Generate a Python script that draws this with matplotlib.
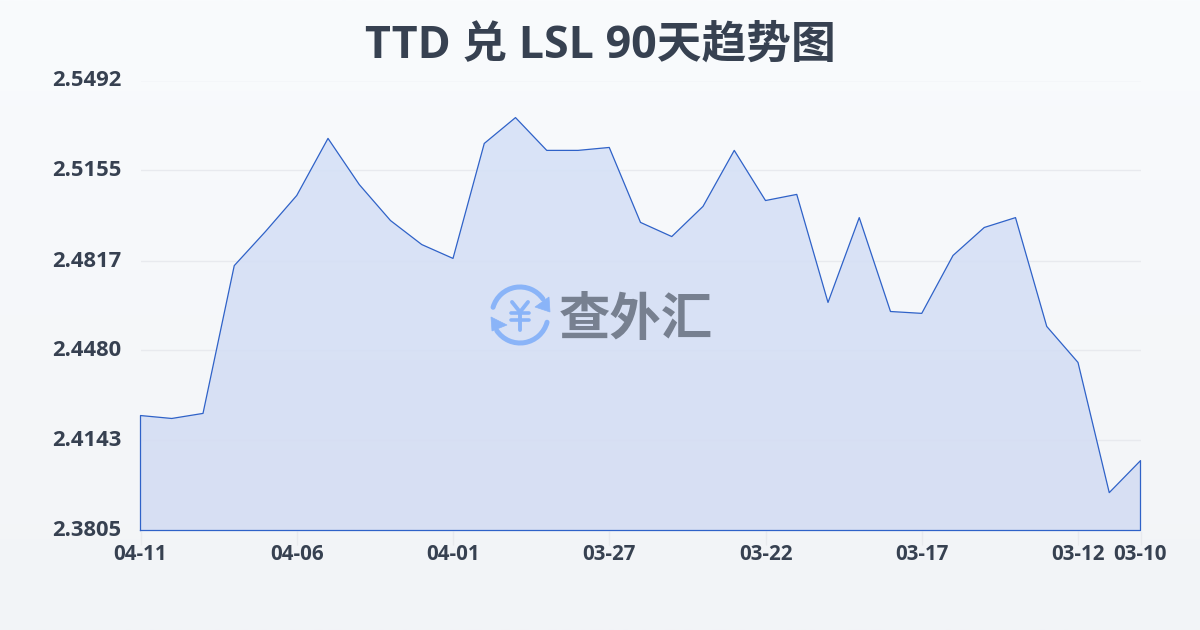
import numpy as np
import matplotlib
matplotlib.use('Agg')
import matplotlib.pyplot as plt
from matplotlib.patches import Arc, Polygon

plt.rcParams['font.family'] = ['Open Sans', 'Noto Sans CJK SC', 'DejaVu Sans']

title = 'TTD 兑 LSL 90天趋势图'
rates = [2.4236, 2.4225, 2.4244, 2.4798, 2.4926, 2.5061, 2.5275, 2.5102, 2.4967,
         2.4877, 2.4825, 2.5256, 2.5353, 2.5230, 2.5230, 2.5241, 2.4960, 2.4907,
         2.5020, 2.5230, 2.5042, 2.5065, 2.4660, 2.4978, 2.4626, 2.4619, 2.4836,
         2.4941, 2.4978, 2.4570, 2.4435, 2.3947, 2.4067]
x_ticks = [0, 5, 10, 15, 20, 25, 30, 32]
x_labels = ['04-11', '04-06', '04-01', '03-27', '03-22', '03-17', '03-12', '03-10']
y_ticks = [2.3805, 2.4143, 2.4480, 2.4817, 2.5155, 2.5492]
y_labels = ['2.3805', '2.4143', '2.4480', '2.4817', '2.5155', '2.5492']

text_color = '#374151'
line_color = '#2f62c8'
grid_color = '#e8eaee'

fig = plt.figure(figsize=(12, 6.3), dpi=100)

# background gradient
bg = fig.add_axes([0, 0, 1, 1], zorder=0)
bg.imshow(np.linspace(0, 1, 256).reshape(-1, 1),
          cmap=matplotlib.colors.LinearSegmentedColormap.from_list('bg', ['#f9fbfd', '#f2f4f7']),
          aspect='auto', extent=[0, 1, 0, 1])
bg.axis('off')

ax = fig.add_axes([140.5 / 1200, 99.5 / 630, 1000 / 1200, 450 / 630], zorder=1)
ax.patch.set_alpha(0)
x = np.arange(len(rates))

ax.set_xlim(0, 32)
ax.set_ylim(y_ticks[0], y_ticks[-1])
ax.set_yticks(y_ticks)
ax.set_yticklabels(y_labels)
ax.set_xticks(x_ticks)
ax.set_xticklabels(x_labels)
ax.grid(axis='y', color=grid_color, lw=1, zorder=1)
ax.set_axisbelow(True)

# area under the line, closed down to the axis
poly = ax.fill_between(x, rates, y_ticks[0], color='none', zorder=2)
grad = ax.imshow(np.linspace(0, 1, 256).reshape(-1, 1),
                 cmap=matplotlib.colors.LinearSegmentedColormap.from_list('fill', ['#d6e2f8', '#d4ddf3']),
                 aspect='auto', extent=[0, 32, y_ticks[0], y_ticks[-1]], alpha=0.88, zorder=2)
grad.set_clip_path(poly.get_paths()[0], transform=ax.transData)
ax.set_xlim(0, 32)
ax.set_ylim(y_ticks[0], y_ticks[-1])
ax.plot(np.r_[x[0], x, x[-1], x[0]],
        np.r_[y_ticks[0], rates, y_ticks[0], y_ticks[0]],
        color=line_color, lw=0.9, zorder=3, clip_on=False)

for s in ax.spines.values():
    s.set_visible(False)
ax.tick_params(axis='y', length=0, pad=14, labelsize=15.8, labelcolor=text_color)
ax.tick_params(axis='x', length=10, width=1, color=grid_color, pad=0, labelsize=14.8, labelcolor=text_color)
for lab in ax.get_yticklabels() + ax.get_xticklabels():
    lab.set_fontweight('bold')
for lab in ax.get_yticklabels():
    lab.set_transform(lab.get_transform() + matplotlib.transforms.ScaledTranslation(0, 2 / 100, fig.dpi_scale_trans))

fig.text(600 / 1200, 1 - 46.5 / 630, title, ha='center', va='center',
         fontsize=32.2, fontweight='bold', color=text_color)

# watermark logo, drawn in pixel coordinates
wm = fig.add_axes([0, 0, 1, 1], zorder=2)
wm.set_xlim(0, 1200)
wm.set_ylim(630, 0)
wm.axis('off')
blue = '#8ab4f8'
# y axis is inverted here so arc angles run clockwise
wm.add_patch(Arc((520, 315), 56, 56, theta1=196, theta2=325, color=blue, lw=3.6, capstyle='round'))
wm.add_patch(Arc((520, 315), 56, 56, theta1=15, theta2=146, color=blue, lw=3.6, capstyle='round'))
wm.add_patch(Polygon([(549, 297), (550, 312), (535, 307)], closed=True, fc=blue, ec=blue, lw=0.5))
wm.add_patch(Polygon([(491, 317), (492, 331), (507, 325)], closed=True, fc=blue, ec=blue, lw=0.5))
wm.plot([512, 520, 528], [302, 312, 302], color=blue, lw=2.8, solid_capstyle='round', solid_joinstyle='round')
wm.plot([520, 520], [312, 330], color=blue, lw=2.8, solid_capstyle='round')
wm.plot([511, 529], [313, 313], color=blue, lw=2.6, solid_capstyle='round')
wm.plot([511, 529], [320, 320], color=blue, lw=2.6, solid_capstyle='round')
wm.text(636, 319, '查外汇', ha='center', va='center', fontsize=37, fontweight='bold', color='#778090',
        family='Noto Sans CJK SC')

fig.savefig('out.png', dpi=100)
